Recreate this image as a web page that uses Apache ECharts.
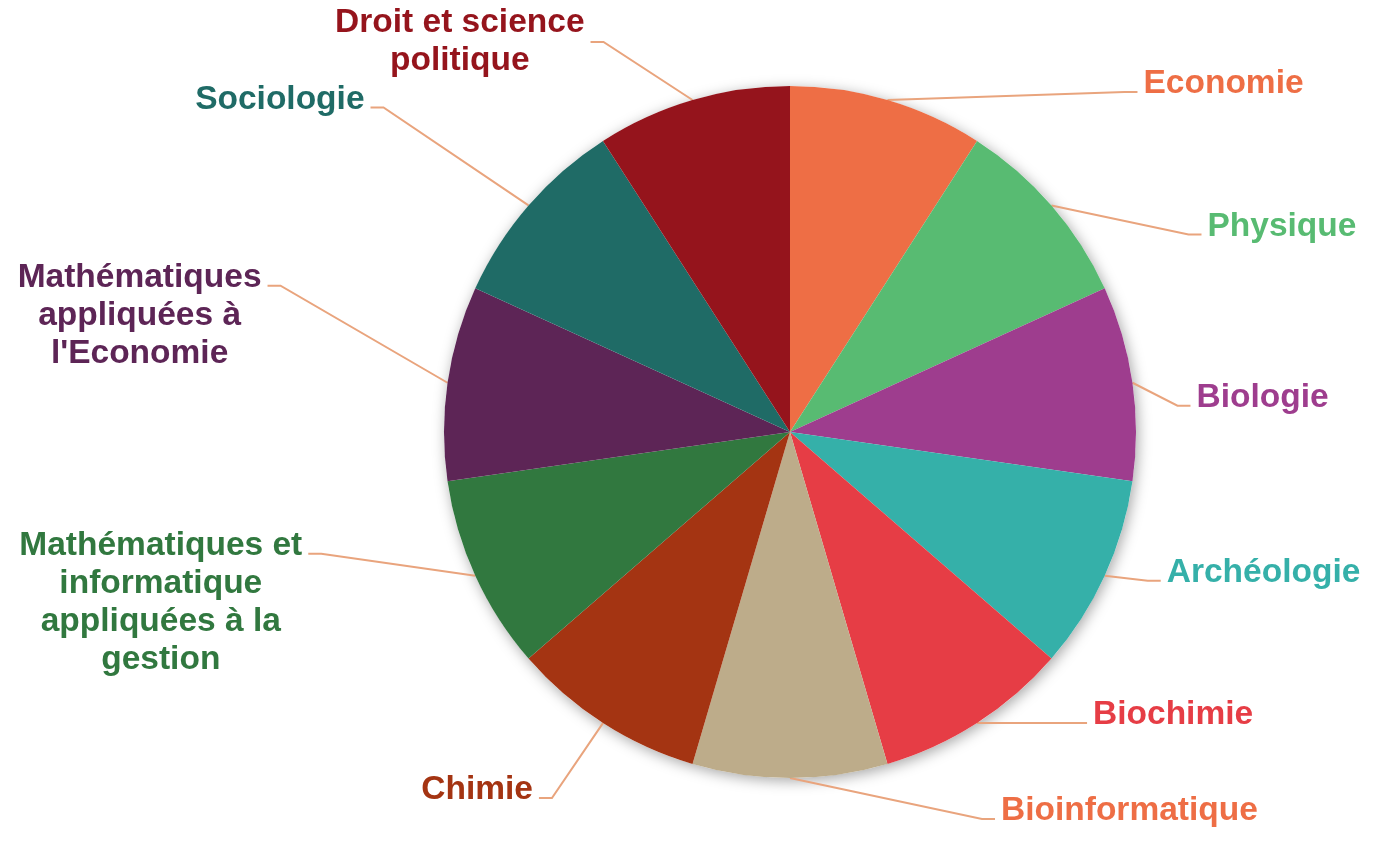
<!DOCTYPE html>
<html>
<head>
<meta charset="utf-8">
<script src="https://cdn.jsdelivr.net/npm/echarts@6/dist/echarts.min.js"></script>
<style>
html,body{margin:0;padding:0;background:#ffffff;}
#chart{width:1384px;height:847px;}
</style>
</head>
<body>
<div id="chart"></div>
<script>
// ---- data ----
const categories = [
  'Economie',
  'Physique',
  'Biologie',
  'Archéologie',
  'Biochimie',
  'Bioinformatique',
  'Chimie',
  'Mathématiques et informatique appliquées à la gestion',
  "Mathématiques appliquées à l'Economie",
  'Sociologie',
  'Droit et science politique'
];
const values = [1, 1, 1, 1, 1, 1, 1, 1, 1, 1, 1];
const labelTexts = [
  'Economie',
  'Physique',
  'Biologie',
  'Archéologie',
  'Biochimie',
  'Bioinformatique',
  'Chimie',
  'Mathématiques et\ninformatique\nappliquées à la\ngestion',
  "Mathématiques\nappliquées à\nl'Economie",
  'Sociologie',
  'Droit et science\npolitique'
];

// ---- styles ----
const sliceColors = ['#EE6E45', '#58BB72', '#9E3D8E', '#35B0A9', '#E63D45', '#BDAC8A',
                     '#A43412', '#31783F', '#5D2556', '#1F6B66', '#95141C'];
const labelColors = ['#EE6E45', '#58BB72', '#9E3D8E', '#35B0A9', '#E63D45', '#EE6E45',
                     '#A43412', '#31783F', '#5D2556', '#1F6B66', '#95141C'];
// where each connector ends, relative to the slice's edge point (label layout styling)
const connectorEndOffset = [[250, -8], [150, 29], [58, 23], [56, 5], [110, 0], [205, 41],
                            [-64, 75], [-167, -22], [-180, -97], [-158, -98], [-102, -58]];

const pieCenter = [790, 432];
const pieRadius = 346;

const chart = echarts.init(document.getElementById('chart'));

const option = {
  animation: false,
  backgroundColor: '#ffffff',
  series: [
    {
      type: 'pie',
      silent: true,
      z: 1,
      center: pieCenter,
      radius: pieRadius,
      label: { show: false },
      labelLine: { show: false },
      itemStyle: {
        color: '#ffffff',
        shadowBlur: 14,
        shadowOffsetX: 2,
        shadowOffsetY: 3,
        shadowColor: 'rgba(0,0,0,0.35)'
      },
      data: [{ value: 1, name: '' }]
    },
    {
      type: 'pie',
      z: 2,
      center: pieCenter,
      radius: pieRadius,
      startAngle: 90,
      clockwise: true,
      avoidLabelOverlap: false,
      itemStyle: { borderWidth: 0 },
      label: {
        show: true,
        position: 'outside',
        fontFamily: 'Liberation Sans, Arial, sans-serif',
        fontWeight: 'bold',
        fontSize: 33.5,
        lineHeight: 38,
        formatter: function (p) { return labelTexts[p.dataIndex]; }
      },
      labelLine: {
        show: true,
        length: 10,
        length2: 10,
        lineStyle: { color: '#E9A47D', width: 2 }
      },
      labelLayout: function (p) {
        const i = p.dataIndex;
        if (!p.labelLinePoints) { return {}; }
        const e = p.labelLinePoints[0];
        const off = connectorEndOffset[i];
        const right = off[0] >= 0;
        const px = e[0] + off[0];
        const py = e[1] + off[1];
        const w = p.labelRect.width;
        const h = p.labelRect.height;
        const nLines = labelTexts[i].split('\n').length;
        const gap = 6;
        const cx = right ? px + gap + w / 2 : px - gap - w / 2;
        const top = nLines === 2 ? py - h / 2 : py - 27;
        return {
          x: cx,
          y: top + h / 2,
          align: 'center',
          verticalAlign: 'middle',
          labelLinePoints: [[e[0], e[1]], [px + (right ? -13 : 13), py], [px, py]]
        };
      },
      data: categories.map(function (name, i) {
        return {
          name: name,
          value: values[i],
          itemStyle: { color: sliceColors[i] },
          label: { color: labelColors[i] }
        };
      })
    }
  ]
};

chart.setOption(option);
</script>
</body>
</html>
